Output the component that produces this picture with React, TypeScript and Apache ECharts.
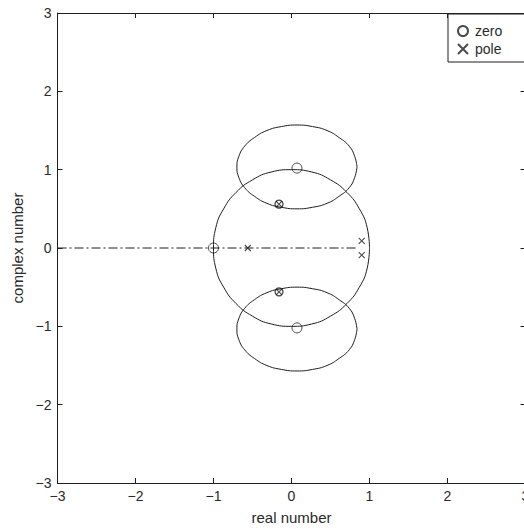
import React, { useEffect, useRef } from "react";
import * as echarts from "echarts";

// Root locus branches
const unitCircle: number[][] = [
  [1.0, 0], [0.97, 0.26], [0.87, 0.5], [0.71, 0.71], [0.5, 0.87], [0.26, 0.97],
  [0, 1.0], [-0.26, 0.97], [-0.5, 0.87], [-0.71, 0.71], [-0.87, 0.5], [-0.97, 0.26],
  [-1.0, 0], [-0.97, -0.26], [-0.87, -0.5], [-0.71, -0.71], [-0.5, -0.87], [-0.26, -0.97],
  [0, -1.0], [0.26, -0.97], [0.5, -0.87], [0.71, -0.71], [0.87, -0.5], [0.97, -0.26],
  [1.0, 0],
];

const upperLoop: number[][] = [
  [0.84, 1.035], [0.81, 1.17], [0.74, 1.3], [0.61, 1.41], [0.455, 1.5], [0.27, 1.55],
  [0.07, 1.57], [-0.13, 1.55], [-0.315, 1.5], [-0.475, 1.41], [-0.6, 1.3], [-0.675, 1.17],
  [-0.7, 1.035], [-0.675, 0.9], [-0.6, 0.77], [-0.475, 0.66], [-0.315, 0.57], [-0.13, 0.52],
  [0.07, 0.5], [0.27, 0.52], [0.455, 0.57], [0.61, 0.66], [0.74, 0.77], [0.81, 0.9],
  [0.84, 1.035],
];

const lowerLoop: number[][] = [
  [0.84, -1.035], [0.81, -0.9], [0.74, -0.77], [0.61, -0.66], [0.455, -0.57], [0.27, -0.52],
  [0.07, -0.5], [-0.13, -0.52], [-0.315, -0.57], [-0.475, -0.66], [-0.6, -0.77], [-0.675, -0.9],
  [-0.7, -1.035], [-0.675, -1.17], [-0.6, -1.3], [-0.475, -1.41], [-0.315, -1.5], [-0.13, -1.55],
  [0.07, -1.57], [0.27, -1.55], [0.455, -1.5], [0.61, -1.41], [0.74, -1.3], [0.81, -1.17],
  [0.84, -1.035],
];

const realAxisBranch: number[][] = [
  [-3, 0],
  [0.86, 0],
];

const zeros: number[][] = [
  [-1.0, 0],
  [0.07, 1.02],
  [0.07, -1.02],
];
const innerZeros: number[][] = [
  [-0.16, 0.56],
  [-0.16, -0.56],
];
const poles: number[][] = [
  [-0.56, 0],
  [0.9, 0.09],
  [0.9, -0.09],
  [-0.16, 0.56],
  [-0.16, -0.56],
];

const axisMin = -3;
const axisMax = 3;
const axisStep = 1;

const FONT = '"Liberation Sans", Arial, Helvetica, sans-serif';
const INK = "#1e1e1e";
const TEXT = "#2a2a2a";
const X_SYMBOL = "path://M0,0L10,10M10,0L0,10";

const fmt = (v: number) => (v < 0 ? "\u2212" + Math.abs(v) : String(v));

export default function App() {
  const ref = useRef<HTMLDivElement>(null);

  useEffect(() => {
    if (!ref.current) return;
    const chart = echarts.init(ref.current, undefined, { renderer: "svg" });

    const axisCommon = {
      type: "value" as const,
      min: axisMin,
      max: axisMax,
      interval: axisStep,
      splitLine: { show: false },
      axisLine: { show: true, onZero: false, lineStyle: { color: INK, width: 1 } },
      axisTick: { show: true, inside: true, length: 5, lineStyle: { color: INK, width: 1 } },
    };

    const lineSeries = (data: number[][]) => ({
      type: "line",
      data,
      symbol: "none",
      smooth: 0.5,
      silent: true,
      lineStyle: { color: INK, width: 1 },
    });

    chart.setOption({
      animation: false,
      backgroundColor: "#ffffff",
      textStyle: { fontFamily: FONT },
      grid: {
        left: 57.5,
        top: 13,
        width: 468,
        height: 470,
        containLabel: false,
        outerBoundsMode: "none",
      },
      legend: {
        data: ["zero", "pole"],
        orient: "vertical",
        left: 448,
        top: 14,
        padding: [10, 50, 6, 9],
        itemWidth: 10,
        itemHeight: 10,
        itemGap: 4,
        borderColor: INK,
        borderWidth: 1,
        borderRadius: 0,
        backgroundColor: "#ffffff",
        selectedMode: false,
        textStyle: { fontSize: 14, color: TEXT, fontFamily: FONT, padding: [0, 0, 0, 2] },
      },
      xAxis: [
        {
          ...axisCommon,
          position: "bottom",
          name: "real number",
          nameLocation: "middle",
          nameGap: 27,
          nameTextStyle: { fontSize: 15, color: TEXT, fontFamily: FONT },
          axisLabel: { margin: 6, fontSize: 14, color: TEXT, fontFamily: FONT, formatter: fmt },
        },
        {
          ...axisCommon,
          position: "top",
          axisLabel: { show: false },
        },
      ],
      yAxis: [
        {
          ...axisCommon,
          position: "left",
          name: "complex number",
          nameLocation: "middle",
          nameGap: 33,
          nameTextStyle: { fontSize: 15, color: TEXT, fontFamily: FONT },
          axisLabel: { margin: 6, fontSize: 14, color: TEXT, fontFamily: FONT, formatter: fmt },
        },
        {
          ...axisCommon,
          position: "right",
          axisLabel: { show: false },
        },
      ],
      series: [
        lineSeries(unitCircle),
        lineSeries(upperLoop),
        lineSeries(lowerLoop),
        {
          type: "line",
          data: realAxisBranch,
          symbol: "none",
          silent: true,
          lineStyle: { color: INK, width: 1, type: [9, 3, 2, 3] },
        },
        {
          name: "zero",
          type: "scatter",
          data: zeros,
          symbol: "circle",
          symbolSize: 10,
          silent: true,
          itemStyle: { color: "rgba(255,255,255,0)", borderColor: INK, borderWidth: 1 },
          z: 5,
        },
        {
          type: "scatter",
          data: innerZeros,
          symbol: "circle",
          symbolSize: 8,
          silent: true,
          itemStyle: { color: "rgba(255,255,255,0)", borderColor: INK, borderWidth: 1.3 },
          z: 5,
        },
        {
          name: "pole",
          type: "scatter",
          data: poles,
          symbol: X_SYMBOL,
          symbolSize: 6,
          silent: true,
          itemStyle: { color: "rgba(255,255,255,0)", borderColor: INK, borderWidth: 1.1 },
          z: 6,
        },
      ],
    });

    return () => chart.dispose();
  }, []);

  return (
    <div
      ref={ref}
      style={{ position: "fixed", left: 0, top: 0, width: 524, height: 529, background: "#fff" }}
    />
  );
}
